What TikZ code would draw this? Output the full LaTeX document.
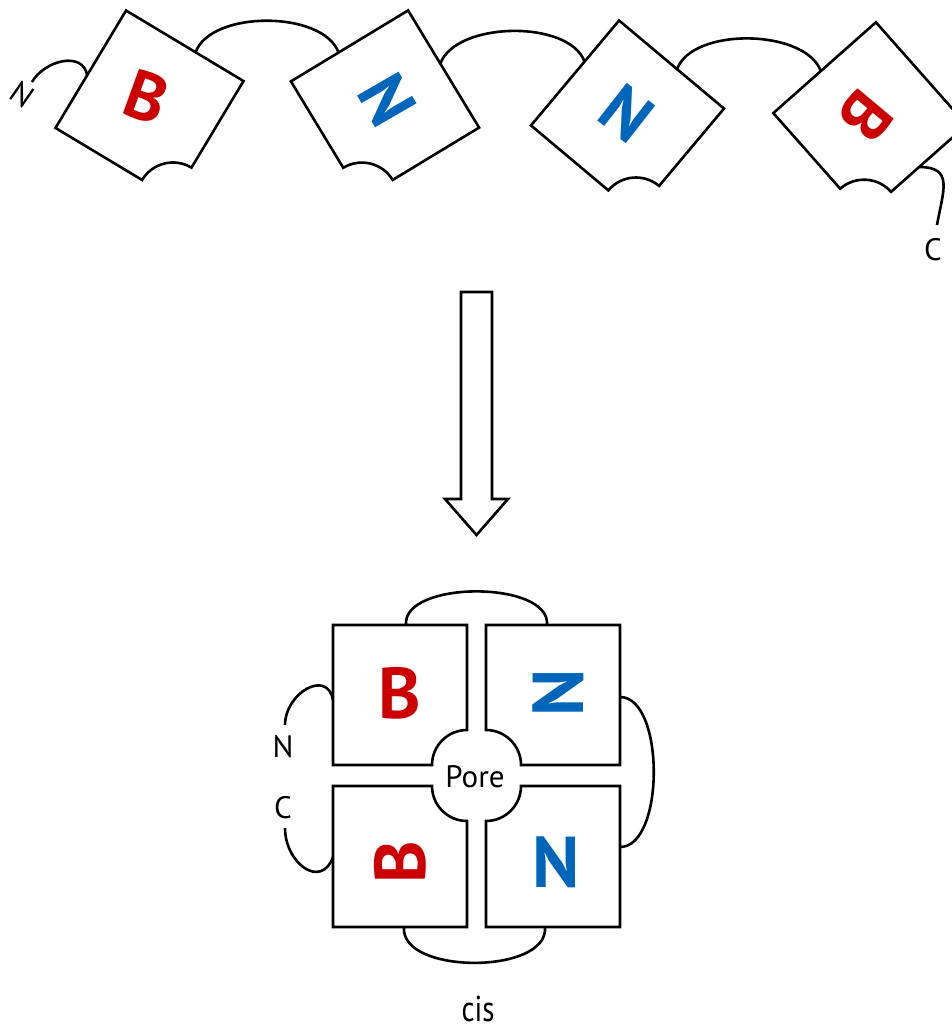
\documentclass[tikz,border=0pt]{standalone}
\usepackage{fontspec}
\setmainfont{PT Sans}
\definecolor{domred}{RGB}{204,0,0}
\definecolor{domblue}{RGB}{0,102,187}
\tikzset{
  repeatbox/.style={draw=black, line width=2.6pt, fill=white},
  linker/.style={draw=black, line width=2.6pt},
  arrowbody/.style={draw=black, line width=2.6pt, fill=white},
  toplet/.style={font=\fontsize{68}{68}\selectfont\bfseries, inner sep=0pt},
  botlet/.style={font=\fontsize{72}{72}\selectfont\bfseries, inner sep=0pt},
  lbl/.style={font=\fontsize{31}{31}\selectfont, inner sep=0pt},
  % square repeat with a quarter-circle notch at its lower right corner
  repeatshape/.pic={
    \draw[repeatbox] (-68.5,-68.5) -- (32.5,-68.5)
      arc[start angle=180, end angle=90, radius=36]
      -- (68.5,68.5) -- (-68.5,68.5) -- cycle;
  }
}
\begin{document}
\begin{tikzpicture}[x=1pt, y=1pt]
\useasboundingbox (0,0) rectangle (951,-1031);

% ---------- linear chain of four repeats ----------
% attachment points of the linkers, in the frame of each repeat
\begin{scope}[shift={(149.5,-104.5)}, rotate=-31]
  \coordinate (d1w) at (-68.5,-7);
  \coordinate (d1n) at (12.6,68.5);
\end{scope}
\begin{scope}[shift={(385,-104.5)}, rotate=-58.8]
  \coordinate (d2w) at (-68.5,-12.8);
  \coordinate (d2n) at (-6.3,68.5);
\end{scope}
\begin{scope}[shift={(627.5,-117)}, rotate=-40]
  \coordinate (d3w) at (-68.5,14.8);
  \coordinate (d3n) at (7.2,68.5);
\end{scope}
\begin{scope}[shift={(870,-119)}, rotate=-48.5]
  \coordinate (d4w) at (-68.5,-5.1);
  \coordinate (d4e) at (68.5,5);
\end{scope}
\coordinate (nend) at (32,-82);
\coordinate (cend) at (937,-225);

% linkers
\draw[linker] (nend) to[out=60, in=100, distance=25] (d1w);
\draw[linker] (d1n) to[out=70, in=110, distance=45] (d2w);
\draw[linker] (d2n) to[out=70, in=110, distance=45] (d3w);
\draw[linker] (d3n) to[out=70, in=110, distance=45] (d4w);
\draw[linker] (d4e) to[out=0, in=80, distance=35] (cend);

% repeats
\pic[shift={(149.5,-104.5)}, rotate=-31, transform shape] {repeatshape};
\pic[shift={(385,-104.5)}, rotate=-58.8, transform shape] {repeatshape};
\pic[shift={(627.5,-117)}, rotate=-40, transform shape] {repeatshape};
\pic[shift={(870,-119)}, rotate=-48.5, transform shape] {repeatshape};

\node[toplet, text=domred, rotate=-20] (b1) at (147,-97) {B};
\node[toplet, text=domblue, rotate=-60] (n2) at (387,-100) {N};
\node[toplet, text=domblue, rotate=-38] (n3) at (627,-113) {N};
\node[toplet, text=domred, rotate=-130] (b4) at (866,-116) {B};

\node[lbl, rotate=-35] (nterm) at (22,-95) {N};
\node[lbl, anchor=base] (cterm) at (933,-260) {C};

% ---------- folding arrow ----------
\draw[arrowbody] (461,-292) -- (492,-292) -- (492,-499) -- (508,-499)
  -- (476.5,-535) -- (445,-499) -- (461,-499) -- cycle;

% ---------- assembled pore, seen from the cis side ----------
\coordinate (tln) at (406,-625);
\coordinate (trn) at (547,-625);
\coordinate (tre) at (620,-697);
\coordinate (bre) at (620,-847);
\coordinate (bls) at (404,-927);
\coordinate (brs) at (545,-927);
\coordinate (tlw) at (333,-700);
\coordinate (blw) at (333,-857);
\coordinate (nlow) at (285,-725);
\coordinate (clow) at (285,-828);

\draw[linker] (tln) to[out=95, in=85, distance=45] (trn);
\draw[linker] (tre) to[out=0, in=0, distance=45] (bre);
\draw[linker] (bls) to[out=-95, in=-85, distance=48] (brs);
\draw[linker] (tlw) to[out=100, in=90, distance=32] (nlow);
\draw[linker] (clow) to[out=-90, in=250, distance=35] (blw);

\draw[repeatbox] (333,-625) -- (467,-625) -- (467,-730)
  arc[start angle=90, end angle=180, radius=35] -- (333,-765) -- cycle;
\draw[repeatbox] (620,-625) -- (486,-625) -- (486,-730)
  arc[start angle=90, end angle=0, radius=35] -- (620,-765) -- cycle;
\draw[repeatbox] (333,-927) -- (467,-927) -- (467,-821)
  arc[start angle=270, end angle=180, radius=35] -- (333,-786) -- cycle;
\draw[repeatbox] (620,-927) -- (486,-927) -- (486,-821)
  arc[start angle=270, end angle=360, radius=35] -- (620,-786) -- cycle;

\node[botlet, text=domred] (b5) at (400,-693) {B};
\node[botlet, text=domblue, rotate=90] (n6) at (558,-693) {N};
\node[botlet, text=domred, rotate=90] (b7) at (400,-862) {B};
\node[botlet, text=domblue] (n8) at (556,-862) {N};

\node[lbl, anchor=base] (pore) at (475,-787) {Pore};
\node[lbl, anchor=base] (nlab) at (283,-757) {N};
\node[lbl, anchor=base] (clab) at (283,-818) {C};
\node[inner sep=0pt, anchor=base, font=\fontsize{36}{36}\selectfont] (cis)
  at (478,-1021) {\scalebox{0.8}[1]{cis}};
\end{tikzpicture}
\end{document}
